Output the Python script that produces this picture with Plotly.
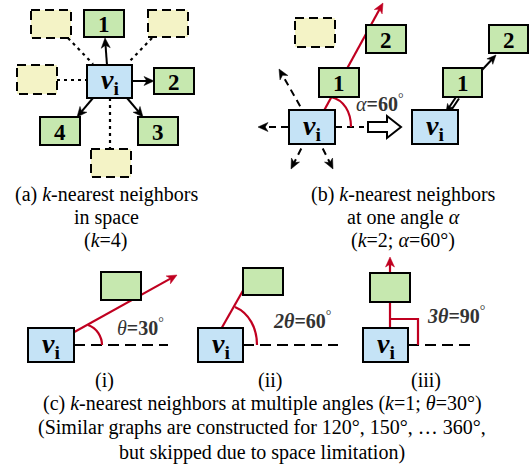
import plotly.graph_objects as go

# ---------------- data ----------------
W, H = 532, 467
FONT = "Liberation Serif"
GREEN = "#C6E8AF"
BLUE = "#C5E3F6"
YELLOW = "#F4F3C6"
RED = "#C00020"
TXT = "#333333"

# panel (a)
a_vi = (87, 65, 132, 98)
a_nodes = ["1", "2", "3", "4"]
a_node_boxes = [(84, 10, 124, 37), (154, 68, 194, 94), (138, 117, 178, 145), (40, 117, 80, 145)]
a_cand_boxes = [(31, 10, 71, 38), (148, 10, 188, 37), (17, 65, 57, 94), (91, 149, 131, 177)]
a_arrows = [((107, 65), (105, 38)), ((132, 81), (154, 81)), ((127, 98), (143, 117)), ((93, 98), (77, 117))]
a_dotted = [((68, 38), (93, 64)), ((152, 38), (128, 63)), ((57, 80), (87, 80)), ((110, 98), (110, 149))]
a_caption = ["(a) <i>k</i>-nearest neighbors", "in space", "(<i>k</i>=4)"]

# panel (b) left
b_vi = (289, 110, 335, 144)
b_nodes = ["1", "2"]
b_node_boxes = [(319, 68, 359, 97), (366, 25, 406, 53)]
b_cand_boxes = [(295, 18, 335, 47)]
b_red = ((315, 127), (383, 3))
b_dash_arrows = [((312, 127), (258, 127)), ((312, 127), (279, 69)),
                 ((312, 127), (291, 169)), ((312, 127), (333, 169))]
b_ref = ((335, 127), (364, 127))
b_arc = "M 331,97 C 344,100 351,112 351,127"
b_angle_text = ("<i>α</i><b>=60</b><sup>°</sup>", 380, 103)
b_hollow = "M 368,122 L 387,122 L 387,116 L 401,127 L 387,138 L 387,132 L 368,132 Z"
# panel (b) right
b2_vi = (412, 110, 458, 144)
b2_node_boxes = [(443, 68, 482, 97), (489, 25, 528, 53)]
b2_edges = [((456, 97), (446, 112)), ((482, 70), (496, 55))]
b_caption = ["(b) <i>k</i>-nearest neighbors", "at one angle <i>α</i>", "(<i>k</i>=2; <i>α</i>=60°)"]

# panel (c)
c_vis = [(28, 328, 74, 362), (198, 328, 243, 362), (363, 328, 408, 362)]
c_boxes = [(101, 272, 141, 300), (243, 268, 283, 295), (370, 273, 410, 302)]
c_red = [((51, 345), (177, 275)), ((212, 345), (245, 287)), ((390, 345), (390, 257))]
c_red_head = [True, False, True]
c_arcs = ["M 88,325 C 97,328 102,337 102,345",
          "M 235,307 C 249,313 257,328 257,345",
          "M 390,319 L 418,319 L 418,345"]
c_ref = [((74, 345), (168, 345)), ((243, 345), (338, 345)), ((408, 345), (472, 345))]
c_angle_text = [("<i>θ</i><b>=30</b><sup>°</sup>", 140, 327),
                ("<b><i>2θ</i>=60</b><sup>°</sup>", 302, 320),
                ("<b><i>3θ</i>=90</b><sup>°</sup>", 456, 315)]
c_sub_labels = [("(i)", 104, 380), ("(ii)", 270, 380), ("(iii)", 426, 380)]
c_caption = ["(c) <i>k</i>-nearest neighbors at multiple angles (<i>k</i>=1; <i>θ</i>=30°)",
             "(Similar graphs are constructed for 120°, 150°, … 360°,",
             "but skipped due to space limitation)"]

# ---------------- figure ----------------
fig = go.Figure()
fig.add_trace(go.Scatter(x=[0], y=[0], mode="markers", marker=dict(opacity=0), hoverinfo="skip", showlegend=False))
shapes = []
ann = []


def line(p, q, color="black", width=2, dash="solid"):
    shapes.append(dict(type="line", x0=p[0], y0=p[1], x1=q[0], y1=q[1],
                       line=dict(color=color, width=width, dash=dash)))


def rect(b, fill, dash="solid", width=2):
    shapes.append(dict(type="rect", x0=b[0], y0=b[1], x1=b[2], y1=b[3], fillcolor=fill,
                       line=dict(color="black", width=width, dash=dash)))


def path(p, color, width=2, fill=None):
    d = dict(type="path", path=p, line=dict(color=color, width=width))
    if fill:
        d["fillcolor"] = fill
    shapes.append(d)


def head(p, q, color="black", L=10, hw=4.5):
    dx, dy = q[0] - p[0], q[1] - p[1]
    n = (dx * dx + dy * dy) ** 0.5
    ux, uy = dx / n, dy / n
    nx, ny = -uy, ux
    bx, by = q[0] - ux * L, q[1] - uy * L
    kx, ky = q[0] - ux * L * 0.72, q[1] - uy * L * 0.72
    pts = [(q[0], q[1]), (bx + nx * hw, by + ny * hw), (kx, ky), (bx - nx * hw, by - ny * hw)]
    d = "M " + " L ".join("%.2f,%.2f" % pt for pt in pts) + " Z"
    shapes.append(dict(type="path", path=d, fillcolor=color, line=dict(color=color, width=0.5)))
    return (q[0] - ux * L * 0.6, q[1] - uy * L * 0.6)


def arrow(p, q, color="black", width=2, dash="solid", L=10, hw=4.5):
    end = head(p, q, color, L, hw)
    line(p, end, color, width, dash)


def text(t, x, y, size=20, color="black"):
    ann.append(dict(x=x, y=y, xref="x", yref="y", text=t, showarrow=False,
                    font=dict(family=FONT, size=size, color=color), xanchor="center", yanchor="middle"))


def box_center(b):
    return ((b[0] + b[2]) / 2, (b[1] + b[3]) / 2)


VI = "<b><i>v</i><sub>i</sub></b>"

# ---- panel (a) ----
for p, q in a_dotted:
    line(p, q, width=2.2, dash="3px,4px")
for p, q in a_arrows:
    arrow(p, q)
for b in a_cand_boxes:
    rect(b, YELLOW, dash="9px,5px")
for b, lab in zip(a_node_boxes, a_nodes):
    rect(b, GREEN)
    c = box_center(b)
    text("<b>%s</b>" % lab, c[0], c[1] + 1, size=23)
rect(a_vi, BLUE)
c = box_center(a_vi)
text(VI, c[0], c[1], size=28)
for i, t in enumerate(a_caption):
    text(t, 106, 194 + 23 * i)

# ---- panel (b) ----
for p, q in b_dash_arrows:
    arrow(p, q, dash="7px,5px")
line(b_ref[0], b_ref[1], width=2, dash="7px,5px")
arrow(b_red[0], b_red[1], color=RED, width=2.2)
path(b_arc, RED, width=2.2)
for b in b_cand_boxes:
    rect(b, YELLOW, dash="9px,5px")
for b, lab in zip(b_node_boxes, b_nodes):
    rect(b, GREEN)
    c = box_center(b)
    text("<b>%s</b>" % lab, c[0], c[1] + 1, size=23)
rect(b_vi, BLUE)
c = box_center(b_vi)
text(VI, c[0], c[1], size=28)
text(b_angle_text[0], b_angle_text[1], b_angle_text[2], size=20, color=TXT)
path(b_hollow, "black", width=2, fill="white")

# right part
(p0, q0), (p1, q1) = b2_edges
arrow(p0, q0, L=8, hw=3.5)
line((p0[0] + 3, p0[1] + 1.5), (q0[0] + 3, q0[1] + 1.5), width=2)
arrow(p1, q1, L=9, hw=4)
for b, lab in zip(b2_node_boxes, b_nodes):
    rect(b, GREEN)
    c = box_center(b)
    text("<b>%s</b>" % lab, c[0], c[1] + 1, size=23)
rect(b2_vi, BLUE)
c = box_center(b2_vi)
text(VI, c[0], c[1], size=28)
for i, t in enumerate(b_caption):
    text(t, 403, 194 + 23 * i)

# ---- panel (c) ----
for k in range(3):
    p, q = c_ref[k]
    line(p, q, width=2, dash="11px,6px")
    rp, rq = c_red[k]
    if c_red_head[k]:
        arrow(rp, rq, color=RED, width=2.2)
    else:
        line(rp, rq, color=RED, width=2.2)
    path(c_arcs[k], RED, width=2.2)
    rect(c_boxes[k], GREEN)
    rect(c_vis[k], BLUE)
    cc = box_center(c_vis[k])
    text(VI, cc[0], cc[1], size=28)
    t, x, y = c_angle_text[k]
    text(t, x, y, size=20, color=TXT)
    t, x, y = c_sub_labels[k]
    text(t, x, y, size=20)
for i, t in enumerate(c_caption):
    text(t, 262, 403 + 24.5 * i)

fig.update_layout(
    width=W, height=H, margin=dict(l=0, r=0, t=0, b=0),
    paper_bgcolor="white", plot_bgcolor="white",
    xaxis=dict(range=[0, W], visible=False, fixedrange=True),
    yaxis=dict(range=[H, 0], visible=False, fixedrange=True),
    shapes=shapes, annotations=ann, showlegend=False,
)
fig.write_html("out.html", config={"displayModeBar": False},
               post_script="document.body.style.margin='0px';document.body.style.overflow='hidden';")
